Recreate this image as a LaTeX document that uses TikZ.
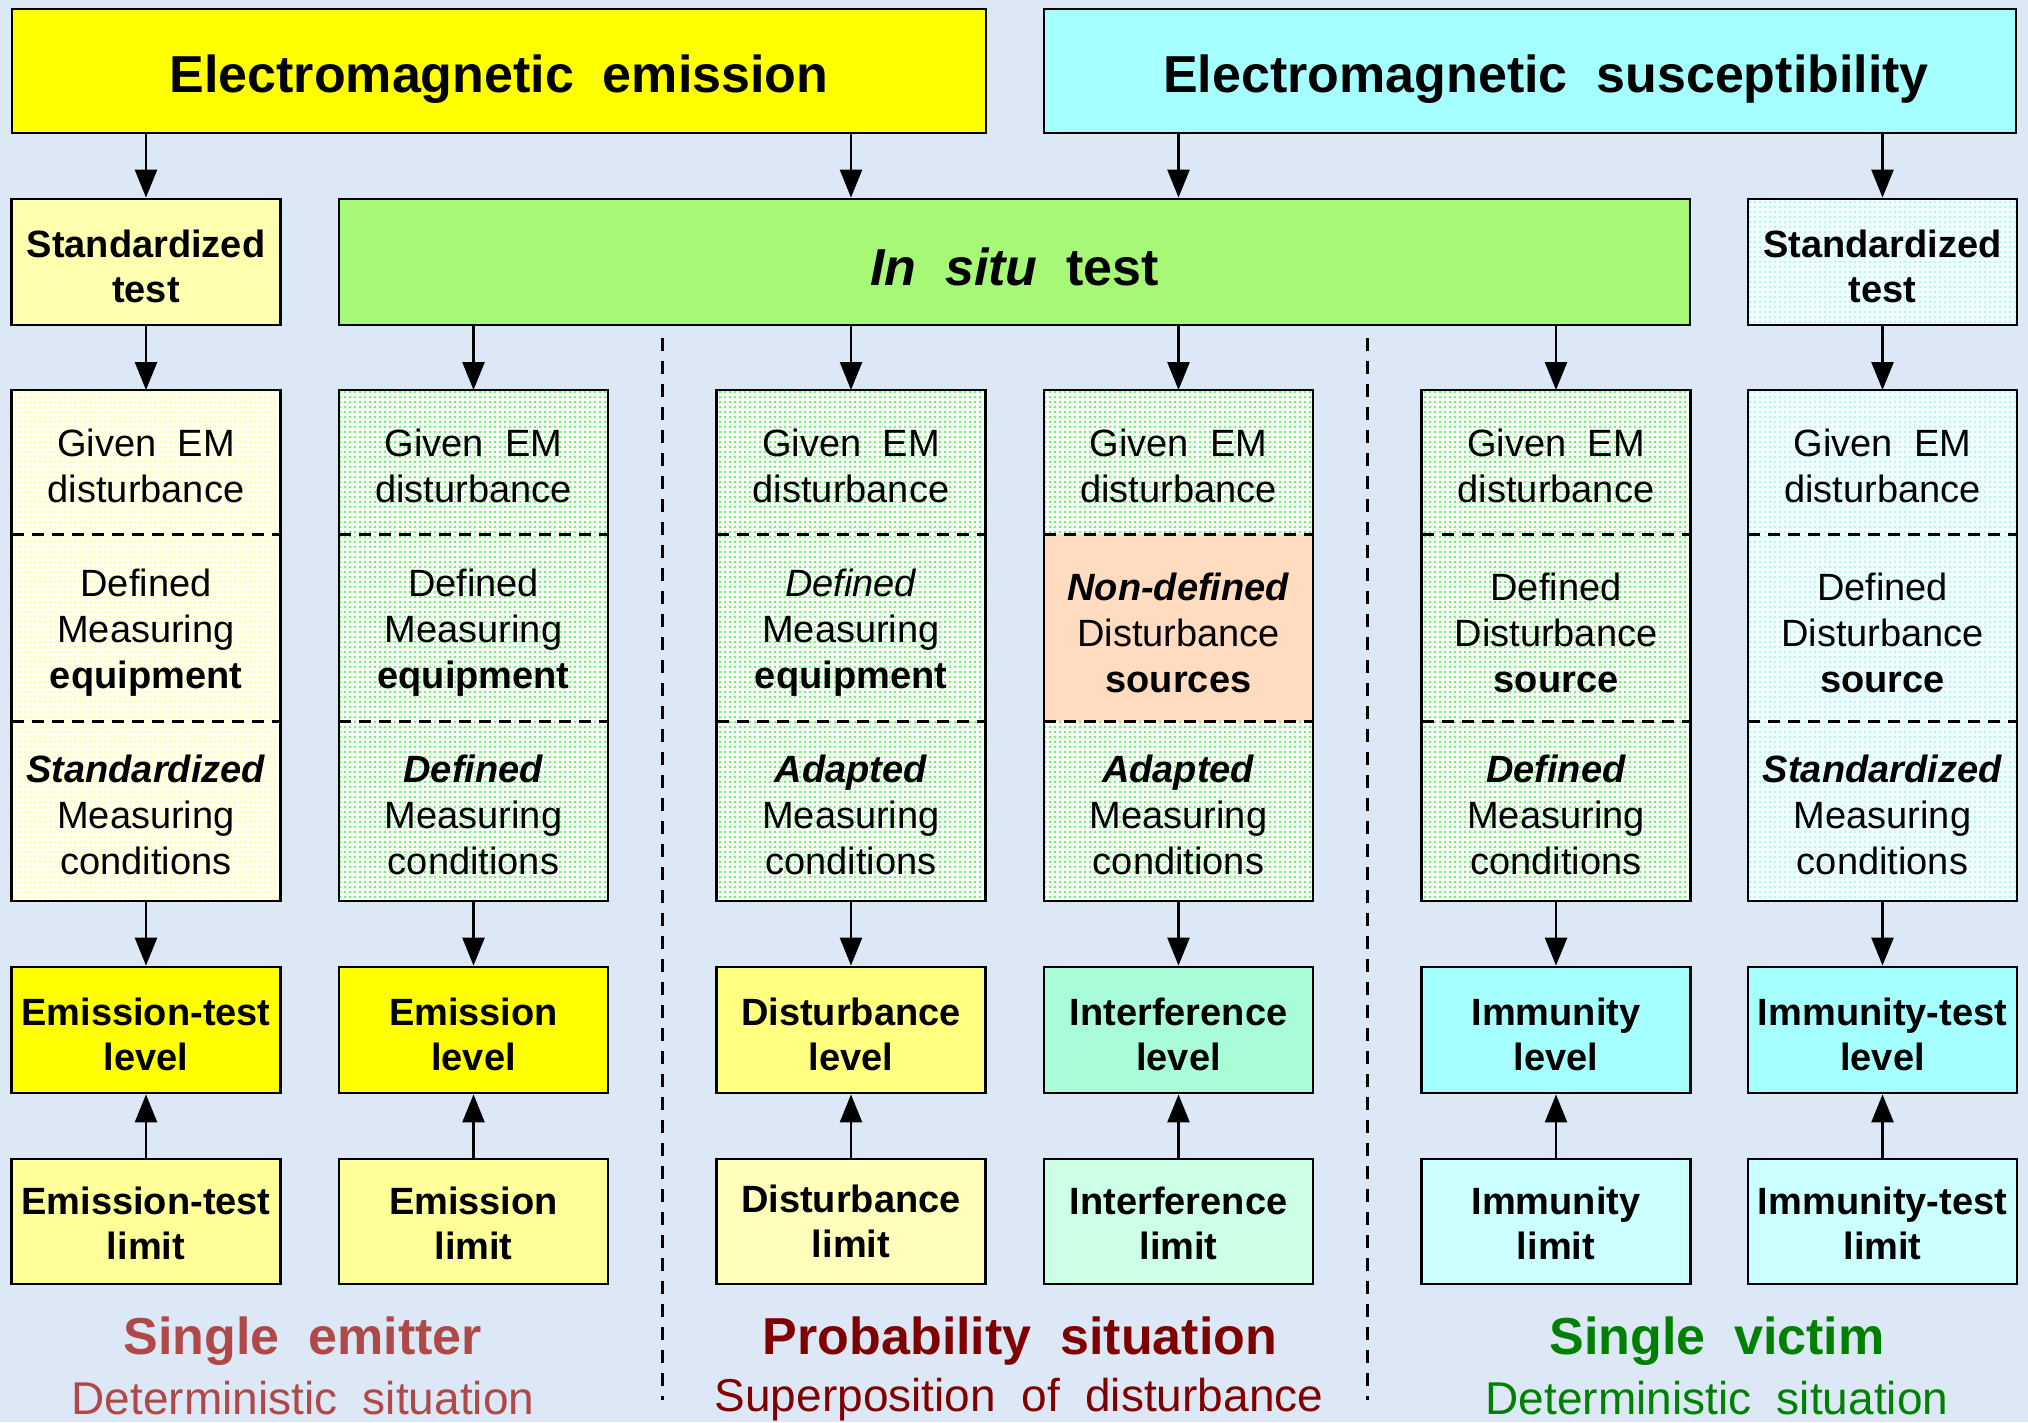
\documentclass[tikz,border=0pt]{standalone}
\usepackage{fontspec}
\setmainfont{Liberation Sans}
\usetikzlibrary{arrows.meta,patterns.meta,calc}
\definecolor{bg}{HTML}{DCE8F5}
\definecolor{emisY}{HTML}{FFFF00}
\definecolor{suscC}{HTML}{A6FFFF}
\definecolor{situG}{HTML}{A8F878}
\definecolor{stdY}{HTML}{FFFFB0}
\definecolor{ybase}{HTML}{FFFFF0}
\definecolor{ydot}{HTML}{FFFF90}
\definecolor{gbase}{HTML}{F6FCF6}
\definecolor{gdot}{HTML}{48EC48}
\definecolor{cbase}{HTML}{F2FFFF}
\definecolor{cdot}{HTML}{A0F0FF}
\definecolor{peach}{HTML}{FFDCC0}
\definecolor{levY}{HTML}{FFFF00}
\definecolor{levLY}{HTML}{FFFF80}
\definecolor{levAq}{HTML}{A8FCD8}
\definecolor{levC}{HTML}{A6FFFF}
\definecolor{limY}{HTML}{FFFF99}
\definecolor{limLY}{HTML}{FFFFBB}
\definecolor{limAq}{HTML}{CCFFE6}
\definecolor{limC}{HTML}{CCFFFF}
\definecolor{emitRed}{HTML}{B04848}
\definecolor{probRed}{HTML}{800000}
\definecolor{victG}{HTML}{008000}
% #1 id, #2 x, #3-#5 fills, #6 text b, #7 text c, #8 level colour, #9 level word
\newcommand{\tallcol}[9]{%
  \node[sec, #3, minimum height=144pt] (t#1a) at (#2,462) {};
  \node[sec, #4, minimum height=187pt] (t#1b) at (#2,627.5) {};
  \node[sec, #5, minimum height=180pt] (t#1c) at (#2,811) {};
  \draw[divline] (t#1a.south west) -- (t#1a.south east);
  \draw[divline] (t#1b.south west) -- (t#1b.south east);
  \draw[line width=2.8pt] (t#1a.north west) rectangle (t#1c.south east);
  \node[regt] (t#1at) at ([yshift=-4pt]t#1a.center) {Given~~EM\\disturbance};
  \node[regt] (t#1bt) at ([yshift=-5pt]t#1b.center) {#6};
  \node[regt] (t#1ct) at ([yshift=-4pt]t#1c.center) {#7};
  \node[lev, fill=#8] (lev#1) at (#2,1030) {};
  \node[medt] (lev#1t) at ([yshift=-4pt]lev#1.center) {#9\\level};
}
\begin{document}
\begin{tikzpicture}[x=1pt,y=-1pt,
  bx/.style={draw=black, line width=2.8pt, inner sep=0pt, minimum width=269pt},
  bigt/.style={inner sep=0pt, align=center, font=\fontsize{52}{60}\selectfont\bfseries},
  medt/.style={inner sep=0pt, align=center, font=\fontsize{38}{45}\selectfont\bfseries},
  regt/.style={inner sep=0pt, align=center, font=\fontsize{38}{46}\selectfont},
  sec/.style={inner sep=0pt, outer sep=0pt, minimum width=269pt},
  arr/.style={-{Triangle[length=28pt,width=22pt]}, line width=2.6pt},
  divline/.style={line width=3pt, dash pattern=on 12pt off 8pt},
  sepline/.style={line width=3pt, dash pattern=on 13pt off 10pt},
  ydots/.style={preaction={fill=ybase}, pattern={Dots[distance=5pt,radius=1.2pt]}, pattern color=ydot},
  gdots/.style={preaction={fill=gbase}, pattern={Dots[distance=5pt,radius=1.2pt]}, pattern color=gdot},
  cdots/.style={preaction={fill=cbase}, pattern={Dots[distance=5pt,radius=1.2pt]}, pattern color=cdot},
  pfill/.style={fill=peach},
  lev/.style={bx, minimum height=126pt},
  lim/.style={bx, minimum height=125pt}
]
% background
\fill[bg] (0,0) rectangle (2028,1422);
\useasboundingbox (0,0) rectangle (2028,1422);

% top boxes
\node[bx, fill=emisY, minimum width=974pt, minimum height=124pt] (emis) at (499,71) {};
\node[bigt] (emist) at ([yshift=-8pt]emis.center) {Electromagnetic~~emission};
\node[bx, fill=suscC, minimum width=972pt, minimum height=124pt] (susc) at (1530,71) {};
\node[bigt] (susct) at ([xshift=16pt,yshift=-8pt]susc.center) {Electromagnetic~~susceptibility};

% row 2
\node[bx, fill=stdY, minimum height=126pt] (std1) at (146,262) {};
\node[medt] (std1t) at ([yshift=-4pt]std1.center) {Standardized\\test};
\node[bx, fill=situG, minimum width=1351pt, minimum height=126pt] (insitu) at (1014.5,262) {};
\node[bigt] (insitut) at ([yshift=-5pt]insitu.center) {\textit{In}~~\textit{situ}~~test};
\node[bx, cdots, minimum height=126pt] (std6) at (1882.5,262) {};
\node[medt] (std6t) at ([yshift=-4pt]std6.center) {Standardized\\test};

% tall boxes
\tallcol{1}{146}{ydots}{ydots}{ydots}{Defined\\Measuring\\\textbf{equipment}}{\textbf{\textit{Standardized}}\\Measuring\\conditions}{levY}{Emission-test}
\tallcol{2}{473.5}{gdots}{gdots}{gdots}{Defined\\Measuring\\\textbf{equipment}}{\textbf{\textit{Defined}}\\Measuring\\conditions}{levY}{Emission}
\tallcol{3}{851}{gdots}{gdots}{gdots}{\textit{Defined}\\Measuring\\\textbf{equipment}}{\textbf{\textit{Adapted}}\\Measuring\\conditions}{levLY}{Disturbance}
\tallcol{4}{1178.5}{gdots}{pfill}{gdots}{\textbf{\textit{Non-defined}}\\Disturbance\\\textbf{sources}}{\textbf{\textit{Adapted}}\\Measuring\\conditions}{levAq}{Interference}
\tallcol{5}{1556}{gdots}{gdots}{gdots}{Defined\\Disturbance\\\textbf{source}}{\textbf{\textit{Defined}}\\Measuring\\conditions}{levC}{Immunity}
\tallcol{6}{1882.5}{cdots}{cdots}{cdots}{Defined\\Disturbance\\\textbf{source}}{\textbf{\textit{Standardized}}\\Measuring\\conditions}{levC}{Immunity-test}

% limit boxes
\node[lim, fill=limY] (lim1) at (146,1221.5) {};
\node[lim, fill=limY] (lim2) at (473.5,1221.5) {};
\node[lim, fill=limLY] (lim3) at (851,1221.5) {};
\node[lim, fill=limAq] (lim4) at (1178.5,1221.5) {};
\node[lim, fill=limC] (lim5) at (1556,1221.5) {};
\node[lim, fill=limC] (lim6) at (1882.5,1221.5) {};
\node[medt] (lim1t) at ([yshift=-2pt]lim1.center) {Emission-test\\limit};
\node[medt] (lim2t) at ([yshift=-2pt]lim2.center) {Emission\\limit};
\node[medt] (lim3t) at ([yshift=0pt]lim3.center) {Disturbance\\limit};
\node[medt] (lim4t) at ([yshift=-2pt]lim4.center) {Interference\\limit};
\node[medt] (lim5t) at ([yshift=-2pt]lim5.center) {Immunity\\limit};
\node[medt] (lim6t) at ([yshift=-2pt]lim6.center) {Immunity-test\\limit};

% separators
\coordinate (s1top) at (662,338);
\coordinate (s1bot) at (662,1400);
\coordinate (s2top) at (1367,338);
\coordinate (s2bot) at (1367,1400);
\draw[sepline] (s1top) -- (s1bot);
\draw[sepline] (s2top) -- (s2bot);

% arrows from top boxes
\draw[arr] (emis.south -| std1.north) -- (std1.north);
\draw[arr] (emis.south -| t3a.north) -- (insitu.north -| t3a.north);
\draw[arr] (susc.south -| t4a.north) -- (insitu.north -| t4a.north);
\draw[arr] (susc.south -| std6.north) -- (std6.north);
% row 2 to tall
\draw[arr] (std1.south) -- (t1a.north);
\draw[arr] (insitu.south -| t2a.north) -- (t2a.north);
\draw[arr] (insitu.south -| t3a.north) -- (t3a.north);
\draw[arr] (insitu.south -| t4a.north) -- (t4a.north);
\draw[arr] (insitu.south -| t5a.north) -- (t5a.north);
\draw[arr] (std6.south) -- (t6a.north);
% tall to level, limit to level
\foreach \i in {1,...,6}{
  \draw[arr] (t\i c.south) -- (lev\i.north);
  \draw[arr] (lim\i.north) -- (lev\i.south);
}

% bottom labels
\node[text=emitRed, font=\fontsize{52}{60}\selectfont\bfseries] (lbl1) at (303,1341) {Single~~emitter};
\node[text=emitRed, font=\fontsize{46}{54}\selectfont] (sub1) at (303,1398) {Deterministic~~situation};
\node[text=probRed, font=\fontsize{52}{60}\selectfont\bfseries] (lbl2) at (1020,1341) {Probability~~situation};
\node[text=probRed, font=\fontsize{46}{54}\selectfont] (sub2) at (1019,1400) {Superposition~~of~~disturbance};
\node[text=victG, font=\fontsize{52}{60}\selectfont\bfseries] (lbl3) at (1717,1341) {Single~~victim};
\node[text=victG, font=\fontsize{46}{54}\selectfont] (sub3) at (1717,1398) {Deterministic~~situation};
\end{tikzpicture}
\end{document}
